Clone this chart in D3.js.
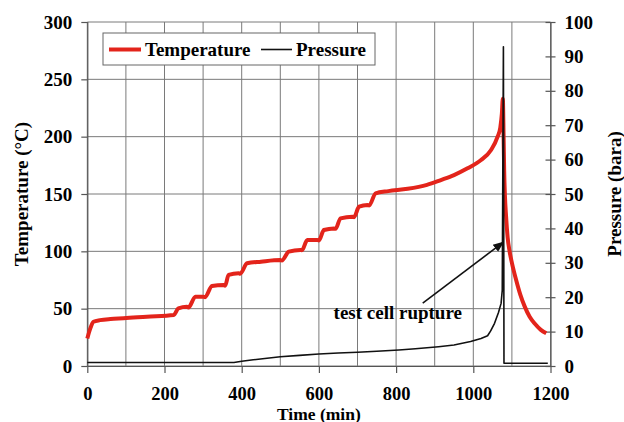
<!DOCTYPE html>
<html>
<head>
<meta charset="utf-8">
<script src="https://cdn.jsdelivr.net/npm/d3@7"></script>
<style>
  html, body { margin: 0; padding: 0; background: #ffffff; }
  svg { display: block; }
  text { font-family: "Liberation Serif", "Times New Roman", serif; font-weight: bold; fill: #000; }
</style>
</head>
<body>
<svg id="chart" width="624" height="422"></svg>
<script>
// ---- data ----
const xTicks = [0, 200, 400, 600, 800, 1000, 1200];
const xGrid = [0, 100, 200, 300, 400, 500, 600, 700, 800, 900, 1000, 1100, 1200];
const tempTicks = [0, 50, 100, 150, 200, 250, 300];
const pressureTicks = [0, 10, 20, 30, 40, 50, 60, 70, 80, 90, 100];

const tempTime = [0, 8, 16, 33, 60, 94, 154, 224, 236, 258, 262, 280, 301, 305, 323, 353, 357, 366, 392, 396, 414, 450, 500, 504, 522, 552, 556, 570, 596, 600, 613, 639, 643, 656, 687, 691, 704, 726, 730, 747, 780, 830, 880, 916, 950, 985, 1020, 1046, 1063, 1070, 1074, 1076.5, 1078.5, 1080, 1082, 1085, 1089, 1094, 1100, 1111, 1122, 1133, 1146, 1159, 1175, 1189];
const tempValues = [24, 33, 38.6, 40, 41, 41.6, 43, 44.5, 50.3, 51.7, 51, 60.4, 60.4, 60, 69.8, 70.6, 70, 79.4, 80.8, 80.5, 89.6, 91, 92.4, 92, 99.7, 101.2, 101, 109.9, 109.9, 109.5, 118.6, 120, 119.6, 128.8, 130.2, 129.8, 138.9, 140.4, 140, 150.6, 152.5, 154.5, 158, 162.2, 166.5, 172.4, 179.6, 188.4, 200, 208, 220, 233, 200, 170, 148, 130, 112, 100, 90, 75, 62, 52, 43, 37, 31.5, 28.5];

const pressureTime = [0, 380, 400, 430, 460, 500, 550, 600, 650, 700, 750, 807, 850, 910, 950, 993, 1020, 1037, 1045, 1055, 1065, 1072, 1075, 1078, 1079.5, 1193];
const pressureValues = [1.0, 1.0, 1.4, 1.8, 2.2, 2.7, 3.1, 3.5, 3.8, 4.0, 4.3, 4.65, 5.0, 5.6, 6.1, 7.1, 8.0, 8.8, 10.2, 12.4, 15.5, 18.2, 22, 92.8, 0.8, 0.8];

const seriesNames = ["Temperature", "Pressure"];
const annotationText = "test cell rupture";
const annotationAt = [638, 13.6];          // [time, pressure] of text start
const arrowFrom = [869, 18.3];             // [time, pressure]
const arrowTo = [1078, 36];                // [time, pressure]

// ---- layout ----
const svg = d3.select("#chart");
const mLeft = 87.3, mRight = 550.5, mTop = 22, mBottom = 366;
const x = d3.scaleLinear().domain([0, 1200]).range([mLeft, mRight]);
const yT = d3.scaleLinear().domain([0, 300]).range([mBottom, mTop]);
const yP = d3.scaleLinear().domain([0, 100]).range([mBottom, mTop]);

const red = "#e3241b";
const gridColor = "#7a7a7a";

// grid
const grid = svg.append("g");
grid.selectAll("line.v").data(xGrid).join("line").attr("class", "v")
  .attr("x1", d => x(d)).attr("x2", d => x(d))
  .attr("y1", mTop).attr("y2", mBottom)
  .attr("stroke", gridColor).attr("stroke-width", 1);
grid.selectAll("line.h").data(tempTicks).join("line").attr("class", "h")
  .attr("x1", mLeft).attr("x2", mRight)
  .attr("y1", d => yT(d)).attr("y2", d => yT(d))
  .attr("stroke", gridColor).attr("stroke-width", 1);

// axes
const fontSize = 19;
const ax = svg.append("g").attr("transform", `translate(0,${mBottom})`)
  .call(d3.axisBottom(x).tickValues(xTicks).tickSize(7).tickPadding(13.4).tickFormat(d3.format("d")));
const ayL = svg.append("g").attr("transform", `translate(${mLeft},0)`)
  .call(d3.axisLeft(yT).tickValues(tempTicks).tickSize(6).tickPadding(9).tickFormat(d3.format("d")));
const ayR = svg.append("g").attr("transform", `translate(${mRight},0)`)
  .call(d3.axisRight(yP).tickValues(pressureTicks).tickSize(5).tickPadding(9).tickFormat(d3.format("d")));
ayR.selectAll(".tick line").attr("x1", -5);

[ax, ayL, ayR].forEach(g => {
  g.selectAll("path.domain").attr("stroke", "#555").attr("stroke-width", 1.2);
  g.selectAll(".tick line").attr("stroke", "#555").attr("stroke-width", 1.2);
  g.selectAll(".tick text").attr("font-size", fontSize).attr("font-family", "Liberation Serif, serif")
    .attr("font-weight", "bold").attr("fill", "#000");
});
ax.selectAll(".tick text").attr("font-size", 18.5);
ax.selectAll("path.domain").attr("d", `M${mLeft},0.5H${mRight}`);
ayL.selectAll("path.domain").attr("d", `M0.5,${mTop}V${mBottom}`);
ayR.selectAll("path.domain").attr("d", `M0.5,${mTop}V${mBottom}`);

// lines
const lineT = d3.line().x((d, i) => x(tempTime[i])).y(d => yT(d)).curve(d3.curveMonotoneX);
const lineP = d3.line().x((d, i) => x(pressureTime[i])).y(d => yP(d)).curve(d3.curveLinear);

svg.append("path").datum(tempValues).attr("d", lineT)
  .attr("fill", "none").attr("stroke", red).attr("stroke-width", 4).attr("stroke-linejoin", "round");
svg.append("path").datum(pressureValues).attr("d", lineP)
  .attr("fill", "none").attr("stroke", "#111").attr("stroke-width", 1.6).attr("stroke-linejoin", "round");

// axis titles
svg.append("text").attr("transform", `translate(28,${(mTop + mBottom) / 2}) rotate(-90)`)
  .attr("text-anchor", "middle").attr("font-size", fontSize).text("Temperature (°C)");
svg.append("text").attr("transform", `translate(621,${(mTop + mBottom) / 2}) rotate(-90)`)
  .attr("text-anchor", "middle").attr("font-size", fontSize).text("Pressure (bara)");
svg.append("text").attr("x", (mLeft + mRight) / 2).attr("y", 419.5)
  .attr("text-anchor", "middle").attr("font-size", 17.5).text("Time (min)");

// annotation
const defs = svg.append("defs");
defs.append("marker").attr("id", "arrow").attr("viewBox", "0 0 10 10")
  .attr("refX", 9).attr("refY", 5).attr("markerWidth", 7).attr("markerHeight", 7)
  .attr("orient", "auto").append("path").attr("d", "M0,1L10,5L0,9Z").attr("fill", "#111");
svg.append("line")
  .attr("x1", x(arrowFrom[0])).attr("y1", yP(arrowFrom[1]))
  .attr("x2", x(arrowTo[0])).attr("y2", yP(arrowTo[1]))
  .attr("stroke", "#111").attr("stroke-width", 1.6).attr("marker-end", "url(#arrow)");
svg.append("text").attr("x", x(annotationAt[0])).attr("y", yP(annotationAt[1]))
  .attr("font-size", fontSize).text(annotationText);

// legend
const lg = svg.append("g");
lg.append("rect").attr("x", 103).attr("y", 33).attr("width", 272).attr("height", 32)
  .attr("fill", "#fff").attr("stroke", "#666").attr("stroke-width", 1);
lg.append("line").attr("x1", 109).attr("x2", 141).attr("y1", 49.5).attr("y2", 49.5)
  .attr("stroke", red).attr("stroke-width", 4);
lg.append("text").attr("x", 145).attr("y", 56).attr("font-size", fontSize).text(seriesNames[0]);
lg.append("line").attr("x1", 261).attr("x2", 292).attr("y1", 49.5).attr("y2", 49.5)
  .attr("stroke", "#111").attr("stroke-width", 1.6);
lg.append("text").attr("x", 296).attr("y", 56).attr("font-size", fontSize).text(seriesNames[1]);
</script>
</body>
</html>
